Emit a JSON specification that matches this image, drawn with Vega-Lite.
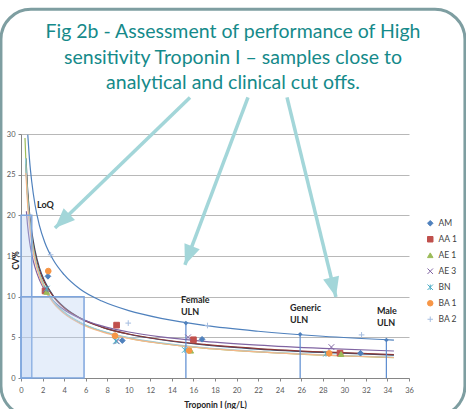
{
  "$schema": "https://vega.github.io/schema/vega-lite/v6.json",
  "width": 388,
  "height": 244,
  "autosize": {"type": "none"},
  "padding": {"left": 21, "top": 134, "right": 57, "bottom": 31},
  "background": "white",
  "title": {
    "text": ["Fig 2b - Assessment of performance of High", "sensitivity Troponin I – samples close to", "analytical and clinical cut offs."],
    "font": "Lato", "fontSize": 19.5, "fontWeight": "normal", "color": "#158a8a",
    "anchor": "middle", "baseline": "top", "offset": 0, "dy": 86, "dx": 18, "lineHeight": 25.5
  },
  "config": {
    "view": {"stroke": null},
    "font": "Lato",
    "axis": {
      "labelFont": "Lato", "labelFontSize": 7.5, "labelColor": "#595959",
      "titleFont": "Lato", "titleFontSize": 8.5, "titleFontWeight": "bold", "titleColor": "#262626",
      "domainColor": "#868686", "tickColor": "#868686", "tickSize": 3,
      "gridColor": "#a6a6a6", "gridWidth": 0.8, "labelOverlap": false
    }
  },
  "datasets": {
    "frame": [{"x": -1.86, "x2": 41.19, "y": -4.67, "y2": 45.33}],
    "boxes": [{"x": 0, "x2": 1, "y": 0, "y2": 20}, {"x": 0, "x2": 5.85, "y": 0, "y2": 10}],
    "trend": [
      {"series": "AM", "x": 0.46, "y": 27.0}, {"series": "AM", "x": 0.6, "y": 23.5}, {"series": "AM", "x": 0.8, "y": 20.2}, {"series": "AM", "x": 1, "y": 18.0}, {"series": "AM", "x": 1.3, "y": 15.7}, {"series": "AM", "x": 1.7, "y": 13.6}, {"series": "AM", "x": 2.2, "y": 11.9}, {"series": "AM", "x": 3, "y": 10.1}, {"series": "AM", "x": 4, "y": 8.71}, {"series": "AM", "x": 5.5, "y": 7.37}, {"series": "AM", "x": 7.5, "y": 6.26}, {"series": "AM", "x": 10, "y": 5.38}, {"series": "AM", "x": 13, "y": 4.70}, {"series": "AM", "x": 17, "y": 4.08}, {"series": "AM", "x": 22, "y": 3.56}, {"series": "AM", "x": 28, "y": 3.14}, {"series": "AM", "x": 34.6, "y": 2.81},
      {"series": "AA 1", "x": 0.45, "y": 26.3}, {"series": "AA 1", "x": 0.6, "y": 22.7}, {"series": "AA 1", "x": 0.8, "y": 19.6}, {"series": "AA 1", "x": 1, "y": 17.5}, {"series": "AA 1", "x": 1.3, "y": 15.3}, {"series": "AA 1", "x": 1.7, "y": 13.3}, {"series": "AA 1", "x": 2.2, "y": 11.7}, {"series": "AA 1", "x": 3, "y": 10.0}, {"series": "AA 1", "x": 4, "y": 8.63}, {"series": "AA 1", "x": 5.5, "y": 7.33}, {"series": "AA 1", "x": 7.5, "y": 6.26}, {"series": "AA 1", "x": 10, "y": 5.41}, {"series": "AA 1", "x": 13, "y": 4.73}, {"series": "AA 1", "x": 17, "y": 4.13}, {"series": "AA 1", "x": 22, "y": 3.62}, {"series": "AA 1", "x": 28, "y": 3.20}, {"series": "AA 1", "x": 34.6, "y": 2.87},
      {"series": "AE 1", "x": 0.37, "y": 29.5}, {"series": "AE 1", "x": 0.5, "y": 25.1}, {"series": "AE 1", "x": 0.6, "y": 22.7}, {"series": "AE 1", "x": 0.8, "y": 19.4}, {"series": "AE 1", "x": 1, "y": 17.2}, {"series": "AE 1", "x": 1.3, "y": 14.9}, {"series": "AE 1", "x": 1.7, "y": 12.9}, {"series": "AE 1", "x": 2.2, "y": 11.2}, {"series": "AE 1", "x": 3, "y": 9.46}, {"series": "AE 1", "x": 4, "y": 8.09}, {"series": "AE 1", "x": 5.5, "y": 6.80}, {"series": "AE 1", "x": 7.5, "y": 5.75}, {"series": "AE 1", "x": 10, "y": 4.91}, {"series": "AE 1", "x": 13, "y": 4.26}, {"series": "AE 1", "x": 17, "y": 3.68}, {"series": "AE 1", "x": 22, "y": 3.20}, {"series": "AE 1", "x": 28, "y": 2.80}, {"series": "AE 1", "x": 34.6, "y": 2.50},
      {"series": "AE 3", "x": 0.5, "y": 20.5}, {"series": "AE 3", "x": 0.6, "y": 18.9}, {"series": "AE 3", "x": 0.8, "y": 16.7}, {"series": "AE 3", "x": 1, "y": 15.2}, {"series": "AE 3", "x": 1.3, "y": 13.6}, {"series": "AE 3", "x": 1.7, "y": 12.1}, {"series": "AE 3", "x": 2.2, "y": 10.8}, {"series": "AE 3", "x": 3, "y": 9.49}, {"series": "AE 3", "x": 4, "y": 8.39}, {"series": "AE 3", "x": 5.5, "y": 7.32}, {"series": "AE 3", "x": 7.5, "y": 6.41}, {"series": "AE 3", "x": 10, "y": 5.66}, {"series": "AE 3", "x": 13, "y": 5.06}, {"series": "AE 3", "x": 17, "y": 4.51}, {"series": "AE 3", "x": 22, "y": 4.04}, {"series": "AE 3", "x": 28, "y": 3.64}, {"series": "AE 3", "x": 34.6, "y": 3.32},
      {"series": "BN", "x": 0.42, "y": 27.0}, {"series": "BN", "x": 0.6, "y": 22.3}, {"series": "BN", "x": 0.8, "y": 19.2}, {"series": "BN", "x": 1, "y": 17.0}, {"series": "BN", "x": 1.3, "y": 14.8}, {"series": "BN", "x": 1.7, "y": 12.8}, {"series": "BN", "x": 2.2, "y": 11.1}, {"series": "BN", "x": 3, "y": 9.44}, {"series": "BN", "x": 4, "y": 8.09}, {"series": "BN", "x": 5.5, "y": 6.83}, {"series": "BN", "x": 7.5, "y": 5.79}, {"series": "BN", "x": 10, "y": 4.96}, {"series": "BN", "x": 13, "y": 4.31}, {"series": "BN", "x": 17, "y": 3.73}, {"series": "BN", "x": 22, "y": 3.25}, {"series": "BN", "x": 28, "y": 2.86}, {"series": "BN", "x": 34.6, "y": 2.55},
      {"series": "BA 1", "x": 0.45, "y": 25.2}, {"series": "BA 1", "x": 0.6, "y": 21.6}, {"series": "BA 1", "x": 0.8, "y": 18.6}, {"series": "BA 1", "x": 1, "y": 16.5}, {"series": "BA 1", "x": 1.3, "y": 14.4}, {"series": "BA 1", "x": 1.7, "y": 12.5}, {"series": "BA 1", "x": 2.2, "y": 10.9}, {"series": "BA 1", "x": 3, "y": 9.22}, {"series": "BA 1", "x": 4, "y": 7.91}, {"series": "BA 1", "x": 5.5, "y": 6.68}, {"series": "BA 1", "x": 7.5, "y": 5.67}, {"series": "BA 1", "x": 10, "y": 4.87}, {"series": "BA 1", "x": 13, "y": 4.24}, {"series": "BA 1", "x": 17, "y": 3.68}, {"series": "BA 1", "x": 22, "y": 3.21}, {"series": "BA 1", "x": 28, "y": 2.82}, {"series": "BA 1", "x": 34.6, "y": 2.52},
      {"series": "BA 2", "x": 0.63, "y": 29.9}, {"series": "BA 2", "x": 0.8, "y": 26.7}, {"series": "BA 2", "x": 1, "y": 24.1}, {"series": "BA 2", "x": 1.3, "y": 21.3}, {"series": "BA 2", "x": 1.7, "y": 18.8}, {"series": "BA 2", "x": 2.2, "y": 16.7}, {"series": "BA 2", "x": 3, "y": 14.5}, {"series": "BA 2", "x": 4, "y": 12.7}, {"series": "BA 2", "x": 5.5, "y": 10.9}, {"series": "BA 2", "x": 7.5, "y": 9.46}, {"series": "BA 2", "x": 10, "y": 8.28}, {"series": "BA 2", "x": 13, "y": 7.33}, {"series": "BA 2", "x": 17, "y": 6.47}, {"series": "BA 2", "x": 22, "y": 5.75}, {"series": "BA 2", "x": 28, "y": 5.13}, {"series": "BA 2", "x": 34.6, "y": 4.65}
    ],
    "pts": [
      {"series": "AM", "x": 2.5, "y": 12.5}, {"series": "AM", "x": 9.4, "y": 4.6}, {"series": "AM", "x": 16.8, "y": 4.76}, {"series": "AM", "x": 31.5, "y": 3.05},
      {"series": "AA 1", "x": 2.23, "y": 10.7}, {"series": "AA 1", "x": 8.87, "y": 6.5}, {"series": "AA 1", "x": 16.0, "y": 4.7}, {"series": "AA 1", "x": 29.6, "y": 3.05},
      {"series": "AE 1", "x": 2.38, "y": 10.6}, {"series": "AE 1", "x": 8.75, "y": 5.25}, {"series": "AE 1", "x": 15.75, "y": 3.36}, {"series": "AE 1", "x": 29.7, "y": 2.95},
      {"series": "AE 3", "x": 2.3, "y": 10.9}, {"series": "AE 3", "x": 8.9, "y": 4.5}, {"series": "AE 3", "x": 15.5, "y": 5.0}, {"series": "AE 3", "x": 28.8, "y": 3.8},
      {"series": "BN", "x": 2.4, "y": 11.0}, {"series": "BN", "x": 8.8, "y": 4.55}, {"series": "BN", "x": 15.2, "y": 3.45}, {"series": "BN", "x": 28.3, "y": 2.98},
      {"series": "BA 1", "x": 2.53, "y": 13.15}, {"series": "BA 1", "x": 8.72, "y": 5.2}, {"series": "BA 1", "x": 15.6, "y": 3.38}, {"series": "BA 1", "x": 28.6, "y": 3.03},
      {"series": "BA 2", "x": 2.75, "y": 15.15}, {"series": "BA 2", "x": 9.95, "y": 6.75}, {"series": "BA 2", "x": 17.3, "y": 6.45}, {"series": "BA 2", "x": 31.6, "y": 5.3}
    ],
    "uln": [{"name": "Female", "x": 15.3, "y": 6.75}, {"name": "Generic", "x": 25.9, "y": 5.37}, {"name": "Male", "x": 33.9, "y": 4.67}],
    "labels": [
      {"label": "Female\nULN", "x": 14.84, "y": 10.09},
      {"label": "Generic\nULN", "x": 24.95, "y": 9.1},
      {"label": "Male\nULN", "x": 33.02, "y": 8.73},
      {"label": "LoQ", "x": 1.48, "y": 21.77}
    ],
    "arrows": [
      {"id": 1, "x": 3.15, "y": 18.45, "x2": 15.68, "y2": 34.5},
      {"id": 2, "x": 15.21, "y": 13.9, "x2": 21.06, "y2": 34.5},
      {"id": 3, "x": 29.22, "y": 9.96, "x2": 24.68, "y2": 34.5}
    ]
  },
  "encoding": {
    "x": {"field": "x", "type": "quantitative", "scale": {"domain": [0, 36], "nice": false, "zero": false},
      "axis": {"values": [0, 2, 4, 6, 8, 10, 12, 14, 16, 18, 20, 22, 24, 26, 28, 30, 32, 34, 36], "grid": false, "labelPadding": 5, "title": "Troponin I (ng/L)", "titleY": 26, "titleBaseline": "middle", "labelFlush": false, "labelOverlap": false}},
    "y": {"field": "y", "type": "quantitative", "scale": {"domain": [0, 30], "nice": false, "zero": false},
      "axis": {"values": [0, 5, 10, 15, 20, 25, 30], "grid": true, "title": "CV%", "titleX": -6, "titleY": 126, "titleAngle": 270, "titleBaseline": "middle", "titleAlign": "center", "labelPadding": 3}}
  },
  "layer": [
    {
      "data": {"name": "frame"},
      "mark": {"type": "rect", "filled": false, "stroke": "#7e9ea1", "strokeWidth": 3, "cornerRadius": 30},
      "encoding": {"x2": {"field": "x2"}, "y2": {"field": "y2"}}
    },
    {
      "data": {"name": "trend"},
      "mark": {"type": "line", "strokeWidth": 1.2, "interpolate": "monotone"},
      "encoding": {
        "color": {"field": "series", "type": "nominal", "legend": null,
          "scale": {"domain": ["BA 2", "BA 1", "BN", "AE 3", "AE 1", "AA 1", "AM"], "range": ["#4f81bd", "#f5b78a", "#93cddd", "#8064a2", "#9bbb59", "#8c3836", "#2c4d75"]}},
        "detail": {"field": "series"}
      }
    },
    {
      "data": {"name": "boxes"},
      "mark": {"type": "rect", "fill": "#b8cef0", "fillOpacity": 0.35, "stroke": "#7fa6de", "strokeWidth": 1.5},
      "encoding": {"x2": {"field": "x2"}, "y2": {"field": "y2"}}
    },
    {
      "data": {"name": "uln"},
      "mark": {"type": "rule", "color": "#5b8bd0", "strokeWidth": 1.2},
      "encoding": {"y2": {"datum": 0}}
    },
    {
      "data": {"name": "uln"},
      "mark": {"type": "point", "filled": true, "shape": "diamond", "size": 22, "color": "#4f81bd", "opacity": 1},
      "encoding": {}
    },
    {
      "data": {"name": "pts"},
      "mark": {"type": "point", "filled": true, "size": 32, "strokeWidth": 1, "opacity": 1},
      "encoding": {
        "fill": {"field": "series", "type": "nominal",
          "scale": {"domain": ["AM", "AA 1", "AE 1", "AE 3", "BN", "BA 1", "BA 2"], "range": ["#4f81bd", "#c0504d", "#9bbb59", "#8064a2", "#4bacc6", "#f79646", "#a5bde0"]},
          "legend": {"orient": "none", "legendX": 405, "legendY": 85, "title": null, "labelFont": "Lato", "labelFontSize": 8.5, "labelColor": "#404040", "symbolSize": 30, "rowPadding": 6, "labelOffset": 4, "padding": 0, "symbolStrokeWidth": 1}},
        "stroke": {"field": "series", "type": "nominal",
          "scale": {"domain": ["AM", "AA 1", "AE 1", "AE 3", "BN", "BA 1", "BA 2"], "range": ["#4f81bd", "#c0504d", "#9bbb59", "#8064a2", "#4bacc6", "#f79646", "#a5bde0"]}},
        "shape": {"field": "series", "type": "nominal",
          "scale": {"domain": ["AM", "AA 1", "AE 1", "AE 3", "BN", "BA 1", "BA 2"], "range": ["diamond", "square", "triangle-up", "M-1,-1L1,1M-1,1L1,-1", "M-1,-1L1,1M-1,1L1,-1M0,-1L0,1", "circle", "M-1,0L1,0M0,-1L0,1"]}}
      }
    },
    {
      "data": {"name": "labels"},
      "mark": {"type": "text", "align": "left", "baseline": "top", "font": "Lato", "fontWeight": "bold", "fontSize": 9, "lineHeight": 12, "lineBreak": "\n", "color": "#262626"},
      "encoding": {"text": {"field": "label"}}
    },
    {
      "data": {"name": "arrows"},
      "mark": {"type": "rule", "color": "#a3d6d9", "strokeWidth": 3.5},
      "encoding": {"x2": {"field": "x2"}, "y2": {"field": "y2"}}
    },
    {
      "data": {"name": "arrows"},
      "transform": [{"filter": "datum.id == 1"}],
      "mark": {"type": "point", "filled": true, "shape": "M0,0L-0.9,2.2L0.9,2.2Z", "size": 330, "angle": 226, "color": "#a3d6d9", "opacity": 1},
      "encoding": {}
    },
    {
      "data": {"name": "arrows"},
      "transform": [{"filter": "datum.id == 2"}],
      "mark": {"type": "point", "filled": true, "shape": "M0,0L-0.9,2.2L0.9,2.2Z", "size": 330, "angle": 201, "color": "#a3d6d9", "opacity": 1},
      "encoding": {}
    },
    {
      "data": {"name": "arrows"},
      "transform": [{"filter": "datum.id == 3"}],
      "mark": {"type": "point", "filled": true, "shape": "M0,0L-0.9,2.2L0.9,2.2Z", "size": 330, "angle": 166, "color": "#a3d6d9", "opacity": 1},
      "encoding": {}
    }
  ]
}
